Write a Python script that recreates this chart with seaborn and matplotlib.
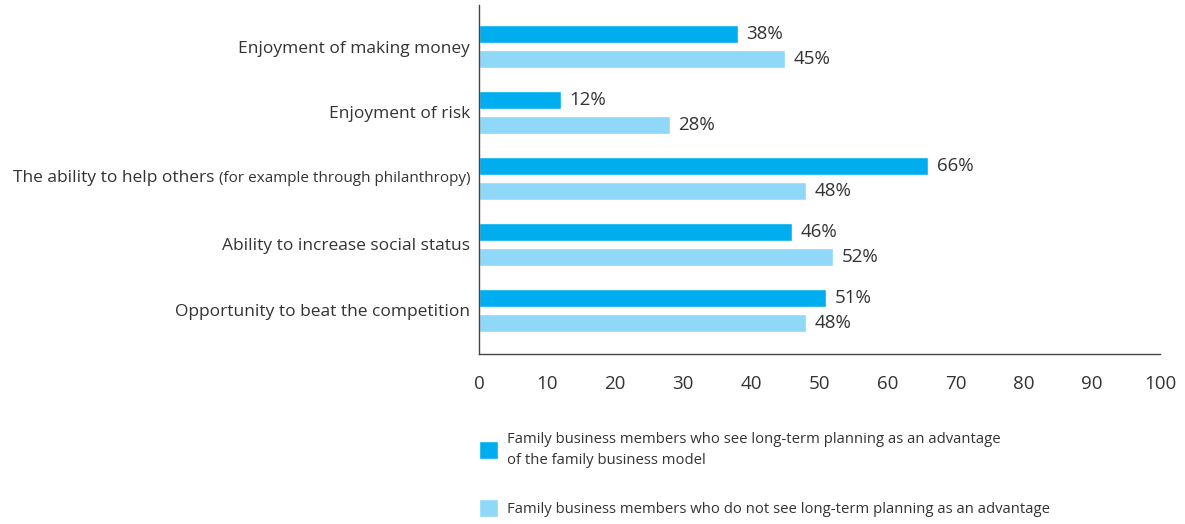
import matplotlib
matplotlib.use("Agg")
import matplotlib.pyplot as plt
import numpy as np
import pandas as pd
import seaborn as sns

categories = [
    "Enjoyment of making money",
    "Enjoyment of risk",
    "The ability to help others",
    "Ability to increase social status",
    "Opportunity to beat the competition",
]
sees_advantage = [38, 12, 66, 46, 51]
no_advantage = [45, 28, 48, 52, 48]
series_names = [
    "Family business members who see long-term planning as an advantage\nof the family business model",
    "Family business members who do not see long-term planning as an advantage",
]
colors = ["#00AEEF", "#8FD8F7"]
x_ticks = [0, 10, 20, 30, 40, 50, 60, 70, 80, 90, 100]

df = pd.DataFrame({
    "category": categories * 2,
    "value": sees_advantage + no_advantage,
    "group": [series_names[0]] * 5 + [series_names[1]] * 5,
})

sns.set_style("white")
plt.rcParams["font.family"] = ["Open Sans", "DejaVu Sans"]
txt = "#333333"

fig = plt.figure(figsize=(11.85, 5.24), dpi=100)
ax = fig.add_axes([479 / 1185, 1 - 354 / 524, (1160 - 479) / 1185, (354 - 5) / 524])

sns.barplot(data=df, y="category", x="value", hue="group", order=categories,
            hue_order=series_names, palette=colors, orient="h",
            width=0.758, gap=0.28, saturation=1, ax=ax, legend=True)

for cont in ax.containers:
    ax.bar_label(cont, labels=[f"{int(v)}%" for v in cont.datavalues],
                 padding=6, fontsize=13.5, color=txt)

ax.set_xlim(0, 100)
ax.set_ylim(4.66, -0.629)
ax.set_xticks(x_ticks)
ax.set_xlabel("")
ax.set_ylabel("")

for s in ["top", "right"]:
    ax.spines[s].set_visible(False)
for s in ["left", "bottom"]:
    ax.spines[s].set_color("#444444")
    ax.spines[s].set_linewidth(1)

ax.tick_params(axis="x", direction="out", length=10, width=1, color="#444444",
               labelsize=13.5, labelcolor=txt, pad=5)
ax.tick_params(axis="y", length=0, labelsize=12.5, labelcolor=txt, pad=6.5)

# third label has a smaller bracketed part
labels = [t.get_text() for t in ax.get_yticklabels()]
labels[2] = ""
ax.set_yticklabels(labels)
fig.canvas.draw()
r = fig.canvas.get_renderer()
small = ax.annotate("(for example through philanthropy)", xy=(0, 2),
                    xycoords=("axes fraction", "data"), xytext=(-9, 0),
                    textcoords="offset pixels", ha="right", va="center",
                    fontsize=11, color=txt)
w = small.get_window_extent(r).width
ax.annotate(categories[2], xy=(0, 2), xycoords=("axes fraction", "data"),
            xytext=(-9 - w - 4, 0), textcoords="offset pixels",
            ha="right", va="center", fontsize=12.5, color=txt)

handles, lbls = ax.get_legend_handles_labels()
leg = ax.legend(handles, lbls, loc="upper left", bbox_to_anchor=(479 / 1185, 1 - 432 / 524),
                bbox_transform=fig.transFigure, frameon=False, fontsize=10.7,
                handlelength=1.28, handleheight=1.49, handletextpad=0.6,
                labelspacing=2.15, labelcolor=txt, borderaxespad=0, borderpad=0)
for t in leg.get_texts():
    t.set_linespacing(1.5)

fig.savefig("out.png", dpi=100)
